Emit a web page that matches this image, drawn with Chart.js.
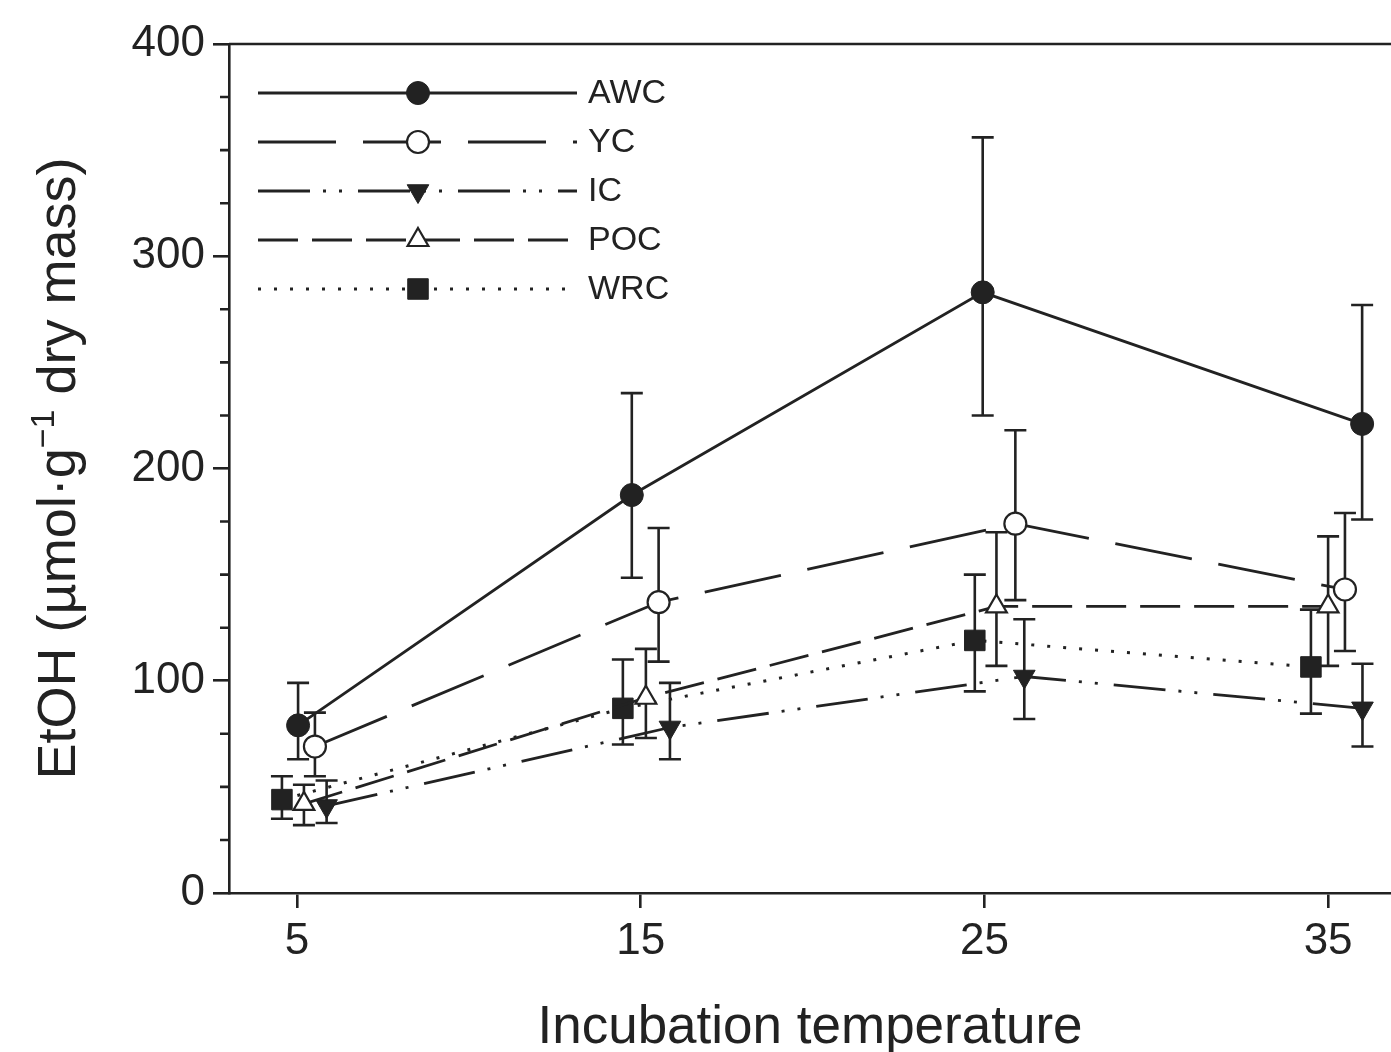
<!DOCTYPE html>
<html>
<head>
<meta charset="utf-8">
<script src="https://cdn.jsdelivr.net/npm/chart.js@4.4.1/dist/chart.umd.min.js"></script>
<style>
  html, body { margin: 0; padding: 0; background: #fff; overflow: hidden; }
  canvas { display: block; }
</style>
</head>
<body>
<canvas id="chart" width="1391" height="1052"></canvas>
<script>
// --- DATA ---
const seriesNames = ['AWC', 'YC', 'IC', 'POC', 'WRC'];
const xTickValues = [5, 15, 25, 35];
const xTitle = 'Incubation temperature';
const yTitleParts = ['EtOH (\u00b5mol\u00b7g', '\u22121', ' dry mass)'];

// x positions as plotted (points are nudged sideways around 5/15/25/35)
const awcX = [5.03, 14.74, 24.95, 35.99];
const ycX  = [5.52, 15.52, 25.90, 35.49];
const icX  = [5.86, 15.85, 26.16, 36.00];
const pocX = [5.20, 15.15, 25.35, 35.00];
const wrcX = [4.56, 14.48, 24.72, 34.50];

// means
const awcY = [79, 187.5, 283, 221];
const ycY  = [69, 137, 174, 143];
const icY  = [41, 78, 102, 87];
const pocY = [42, 92, 135, 135];
const wrcY = [44, 87, 119, 106.5];

// error bar lengths (up / down from the mean)
const awcErrUp = [20, 48, 73, 56],  awcErrDown = [16, 39, 58, 45];
const ycErrUp  = [16, 35, 44, 36],  ycErrDown  = [14, 28, 36, 29];
const icErrUp  = [12, 21, 27, 21],  icErrDown  = [8, 15, 20, 18];
const pocErrUp = [9, 23, 35, 33],   pocErrDown = [10, 19, 28, 28];
const wrcErrUp = [11, 23, 31, 27],  wrcErrDown = [9, 17, 24, 22];

// --- STYLE ---
const INK = '#222';
const FONT = '"Liberation Sans", Arial, Helvetica, sans-serif';
Chart.defaults.font.family = FONT;
Chart.defaults.color = INK;

const pts = (xs, ys) => xs.map((x, i) => ({ x, y: ys[i] }));

function series(label, xs, ys, up, down, style) {
  return Object.assign({
    label,
    data: pts(xs, ys),
    errUp: up,
    errDown: down,
    borderColor: INK,
    borderWidth: 2.8,
    pointBorderColor: INK,
    pointBorderWidth: 1,
    pointBackgroundColor: INK,
    pointRotation: 0,
    tension: 0,
    fill: false
  }, style);
}

const datasets = [
  series(seriesNames[0], awcX, awcY, awcErrUp, awcErrDown, { pointStyle: 'circle', pointRadius: 11.5, borderDash: [] }),
  series(seriesNames[1], ycX, ycY, ycErrUp, ycErrDown, { pointStyle: 'circle', pointRadius: 11, pointBorderWidth: 2.2, pointBackgroundColor: '#fff', borderDash: [78, 27] }),
  series(seriesNames[2], icX, icY, icErrUp, icErrDown, { pointStyle: 'triangle', pointRadius: 12.5, pointRotation: 180, borderDash: [52, 13, 3, 13, 3, 16] }),
  series(seriesNames[3], pocX, pocY, pocErrUp, pocErrDown, { pointStyle: 'triangle', pointRadius: 12, pointBorderWidth: 2.2, pointBackgroundColor: '#fff', borderDash: [40, 14] }),
  series(seriesNames[4], wrcX, wrcY, wrcErrUp, wrcErrDown, { pointStyle: 'rect', pointRadius: 14.5, borderDash: [3, 13], borderWidth: 3 })
];

// --- PLUGINS ---
const errorBars = {
  id: 'errorBars',
  beforeDatasetsDraw(chart) {
    const { ctx, scales: { x, y } } = chart;
    ctx.save();
    ctx.strokeStyle = INK;
    ctx.lineWidth = 2.6;
    ctx.setLineDash([]);
    chart.data.datasets.forEach(ds => {
      ds.data.forEach((p, i) => {
        const px = x.getPixelForValue(p.x);
        const top = y.getPixelForValue(p.y + ds.errUp[i]);
        const bot = y.getPixelForValue(p.y - ds.errDown[i]);
        ctx.beginPath();
        ctx.moveTo(px, top); ctx.lineTo(px, bot);
        ctx.moveTo(px - 11, top); ctx.lineTo(px + 11, top);
        ctx.moveTo(px - 11, bot); ctx.lineTo(px + 11, bot);
        ctx.stroke();
      });
    });
    ctx.restore();
  }
};

const frame = {
  id: 'frame',
  afterDraw(chart) {
    const { ctx, chartArea: a, scales: { y } } = chart;
    ctx.save();
    ctx.strokeStyle = INK;
    ctx.lineWidth = 2.6;
    ctx.setLineDash([]);

    // top edge of the box
    ctx.beginPath();
    ctx.moveTo(a.left, a.top); ctx.lineTo(a.right, a.top);
    ctx.stroke();

    // minor ticks on y every 25
    ctx.beginPath();
    for (let v = 25; v < 400; v += 25) {
      if (v % 100 === 0) continue;
      const py = y.getPixelForValue(v);
      ctx.moveTo(a.left - 9, py); ctx.lineTo(a.left, py);
    }
    ctx.stroke();

    // y title with superscript
    ctx.fillStyle = INK;
    ctx.translate(75, (a.top + a.bottom) / 2);
    ctx.rotate(-Math.PI / 2);
    ctx.textBaseline = 'alphabetic';
    const fonts = ['54px ' + FONT, '34px ' + FONT, '54px ' + FONT];
    const lifts = [0, -21, 0];
    const widths = yTitleParts.map((t, i) => { ctx.font = fonts[i]; return ctx.measureText(t).width; });
    let cx = -widths.reduce((s, w) => s + w, 0) / 2;
    yTitleParts.forEach((t, i) => {
      ctx.font = fonts[i];
      ctx.fillText(t, cx, lifts[i]);
      cx += widths[i];
    });
    ctx.restore();

    // legend
    ctx.save();
    chart.data.datasets.forEach((ds, i) => {
      const ly = a.top + 49 + i * 49;
      const x0 = a.left + 29, x1 = a.left + 348, mx = a.left + 189;
      ctx.strokeStyle = INK;
      ctx.lineWidth = ds.borderWidth;
      ctx.setLineDash(ds.borderDash);
      ctx.beginPath();
      ctx.moveTo(x0, ly); ctx.lineTo(x1, ly);
      ctx.stroke();
      ctx.setLineDash([]);
      ctx.fillStyle = ds.pointBackgroundColor;
      ctx.lineWidth = ds.pointBorderWidth;
      Chart.helpers.drawPoint(ctx, {
        pointStyle: ds.pointStyle,
        rotation: ds.pointRotation,
        radius: ds.pointRadius,
        borderWidth: ds.pointBorderWidth
      }, mx, ly);
      ctx.fillStyle = INK;
      ctx.font = '34px ' + FONT;
      ctx.textBaseline = 'middle';
      ctx.fillText(ds.label, a.left + 359, ly + 1);
    });
    ctx.restore();
  }
};

// --- CHART ---
new Chart(document.getElementById('chart'), {
  type: 'line',
  data: { datasets },
  plugins: [errorBars, frame],
  options: {
    responsive: false,
    animation: false,
    devicePixelRatio: 1,
    layout: { autoPadding: false, padding: { top: 44, left: 0, right: 0, bottom: 0 } },
    plugins: { legend: { display: false }, tooltip: { enabled: false } },
    scales: {
      x: {
        type: 'linear',
        min: 3.02,
        max: 36.83,
        afterBuildTicks: (s) => { s.ticks = xTickValues.map(v => ({ value: v })); },
        afterFit: (s) => { s.height = 159; s.paddingLeft = 0; s.paddingRight = 0; },
        grid: { drawOnChartArea: false, tickLength: 15, lineWidth: 2.6, color: INK },
        border: { display: true, width: 2.6, color: INK },
        ticks: { font: { size: 44 }, padding: 7, color: INK, maxRotation: 0 },
        title: { display: true, text: xTitle, font: { size: 53, lineHeight: 0.88 }, padding: { top: 0, bottom: 0 }, color: INK }
      },
      y: {
        min: 0,
        max: 400,
        afterFit: (s) => { s.width = 229; s.paddingTop = 0; s.paddingBottom = 0; },
        grid: { drawOnChartArea: false, tickLength: 16, lineWidth: 2.6, color: INK },
        border: { display: true, width: 2.6, color: INK },
        ticks: { stepSize: 100, font: { size: 44 }, padding: 8, color: INK }
      }
    }
  }
});
</script>
</body>
</html>
